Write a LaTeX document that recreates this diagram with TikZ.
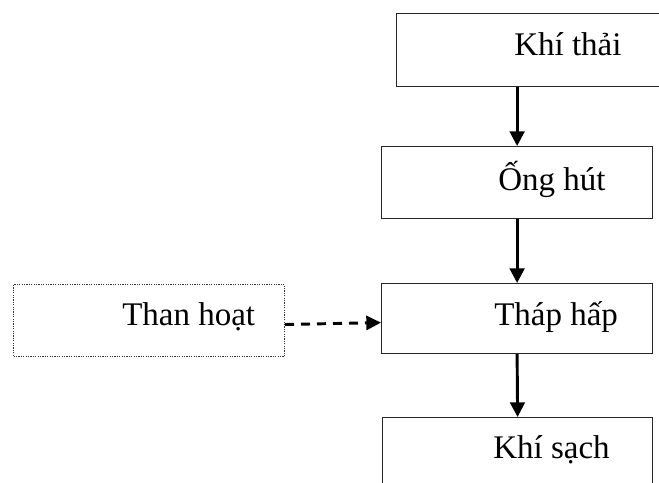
\documentclass[tikz,border=0pt]{standalone}
\usepackage{fontspec}
\setmainfont{Liberation Serif}
\usetikzlibrary{arrows.meta}
\begin{document}
\begin{tikzpicture}[x=0.75pt,y=-0.75pt,
  box/.style={draw=black!85, line width=0.9pt, rectangle, inner sep=0pt, anchor=north west},
  dotbox/.style={draw=black!80, line width=0.75pt, dash pattern=on 0.9pt off 0.9pt, rectangle, inner sep=0pt, anchor=north west},
  lbl/.style={anchor=base west, inner sep=0pt, font=\fontsize{24.75pt}{30pt}\selectfont},
  arr/.style={line width=2.2pt, -{Triangle[length=11pt,width=11pt]}},
  darr/.style={line width=2.2pt, dash pattern=on 6.75pt off 5.25pt, -{Triangle[length=11pt,width=10.5pt]}}]
\useasboundingbox (0,0) rectangle (659,482);
\fill[white] (0,0) rectangle (659,482);
% boxes
\node[box, minimum width=274*0.75pt, minimum height=73*0.75pt] (kt) at (396,13) {};
\node[box, minimum width=271*0.75pt, minimum height=72*0.75pt] (oh) at (381,146) {};
\node[box, minimum width=271*0.75pt, minimum height=70*0.75pt] (th) at (381,283) {};
\node[box, minimum width=270*0.75pt, minimum height=80*0.75pt] (ks) at (382,417) {};
\node[dotbox, minimum width=271*0.75pt, minimum height=72*0.75pt] (tk) at (13,284) {};
% labels
\node[lbl] (tkt) at (514,55) {Khí thải};
\node[lbl] (toh) at (498,190) {Ống hút};
\node[lbl] (tth) at (494,325) {Tháp hấp};
\node[lbl] (tks) at (493,458) {Khí sạch};
\node[lbl] (ttk) at (122,325) {Than hoạt};
% connectors
\draw[arr] (kt.south -| oh.north) -- (oh.north);
\draw[arr] (oh.south) -- (th.north);
\draw[arr] (th.south) -- (ks.north);
\draw[darr] ([yshift=-3pt]tk.east) -- ([yshift=-3pt]th.west);
\end{tikzpicture}
\end{document}
